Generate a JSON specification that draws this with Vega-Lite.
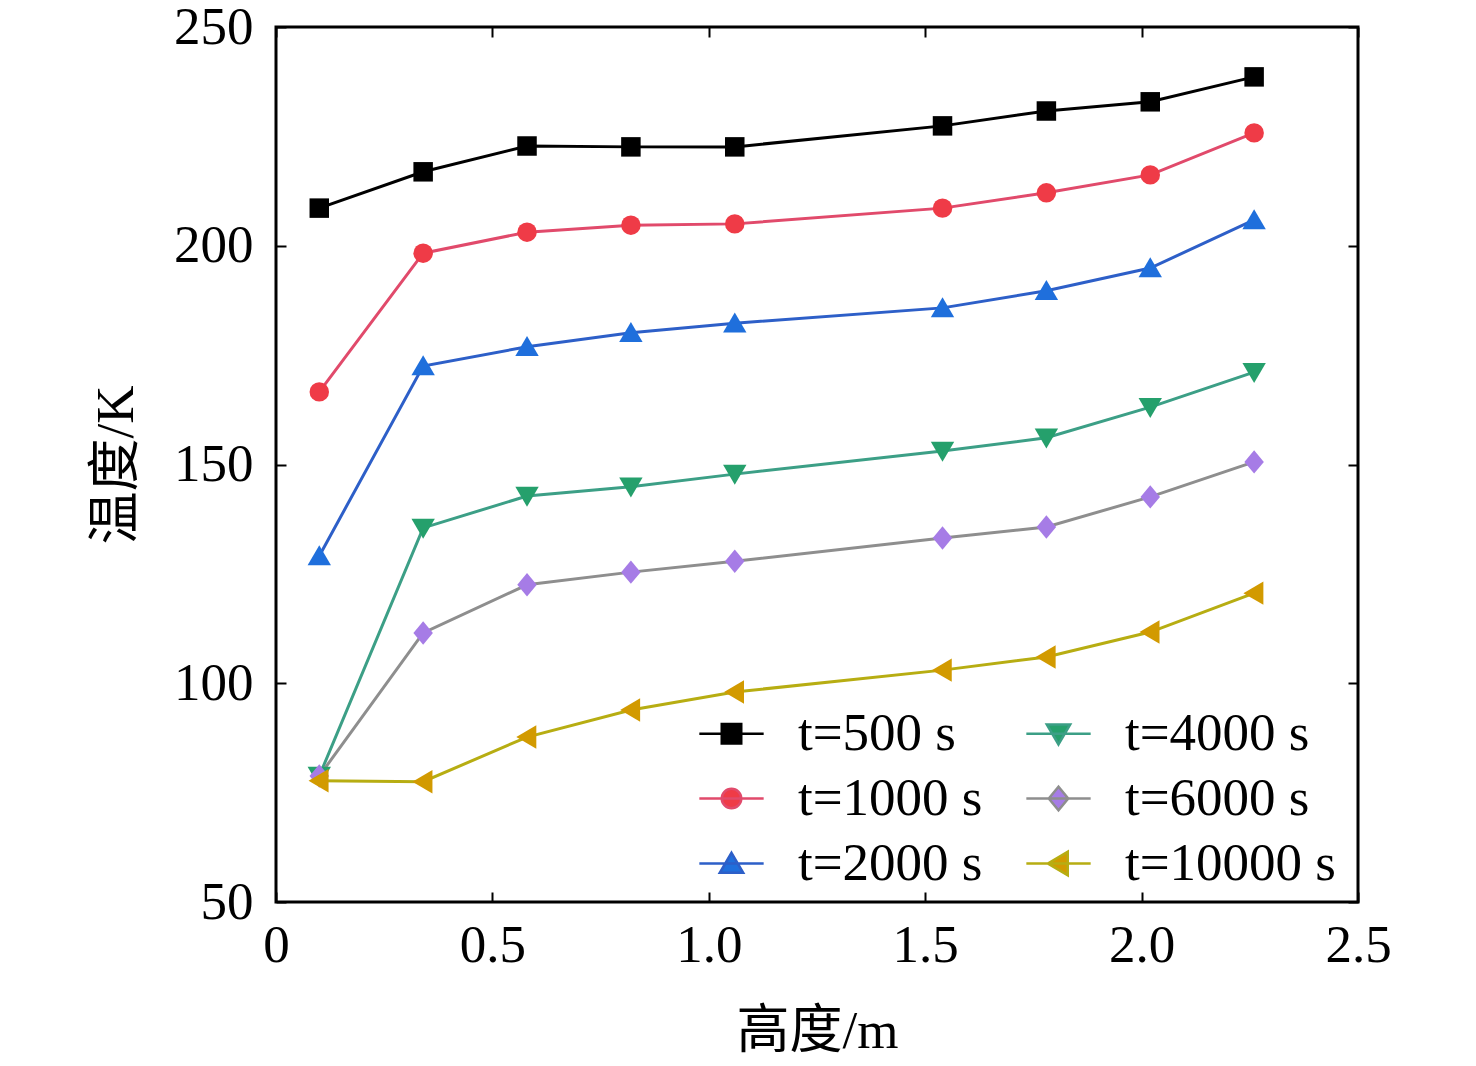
{
  "$schema": "https://vega.github.io/schema/vega-lite/v6.json",
  "width": 1082,
  "height": 875,
  "autosize": {"type": "none"},
  "padding": {"left": 276, "top": 27, "right": 118, "bottom": 164},
  "background": "white",
  "config": {
    "view": {"stroke": "black", "strokeWidth": 3},
    "axis": {
      "labelFont": "Liberation Serif",
      "labelFontSize": 53,
      "labelColor": "black",
      "labelFlush": false,
      "titleFont": "Liberation Serif, Noto Sans CJK SC",
      "titleFontSize": 53,
      "titleFontWeight": "normal",
      "titleColor": "black",
      "tickColor": "black",
      "tickWidth": 2,
      "tickSize": -10,
      "domain": false,
      "grid": false
    },
    "legend": {
      "labelFont": "Liberation Serif",
      "labelFontSize": 53,
      "labelColor": "black",
      "labelLimit": 400
    }
  },
  "data": {
    "values": [
      {"h": 0.1, "T": 208.6, "series": "t=500 s"},
      {"h": 0.34, "T": 216.9, "series": "t=500 s"},
      {"h": 0.58, "T": 222.8, "series": "t=500 s"},
      {"h": 0.82, "T": 222.6, "series": "t=500 s"},
      {"h": 1.06, "T": 222.6, "series": "t=500 s"},
      {"h": 1.54, "T": 227.4, "series": "t=500 s"},
      {"h": 1.78, "T": 230.8, "series": "t=500 s"},
      {"h": 2.02, "T": 232.9, "series": "t=500 s"},
      {"h": 2.26, "T": 238.6, "series": "t=500 s"},
      {"h": 0.1, "T": 166.6, "series": "t=1000 s"},
      {"h": 0.34, "T": 198.3, "series": "t=1000 s"},
      {"h": 0.58, "T": 203.1, "series": "t=1000 s"},
      {"h": 0.82, "T": 204.7, "series": "t=1000 s"},
      {"h": 1.06, "T": 205.0, "series": "t=1000 s"},
      {"h": 1.54, "T": 208.6, "series": "t=1000 s"},
      {"h": 1.78, "T": 212.1, "series": "t=1000 s"},
      {"h": 2.02, "T": 216.2, "series": "t=1000 s"},
      {"h": 2.26, "T": 225.8, "series": "t=1000 s"},
      {"h": 0.1, "T": 129.1, "series": "t=2000 s"},
      {"h": 0.34, "T": 172.5, "series": "t=2000 s"},
      {"h": 0.58, "T": 176.9, "series": "t=2000 s"},
      {"h": 0.82, "T": 180.1, "series": "t=2000 s"},
      {"h": 1.06, "T": 182.3, "series": "t=2000 s"},
      {"h": 1.54, "T": 185.8, "series": "t=2000 s"},
      {"h": 1.78, "T": 189.7, "series": "t=2000 s"},
      {"h": 2.02, "T": 194.9, "series": "t=2000 s"},
      {"h": 2.26, "T": 205.9, "series": "t=2000 s"},
      {"h": 0.1, "T": 78.8, "series": "t=4000 s"},
      {"h": 0.34, "T": 135.5, "series": "t=4000 s"},
      {"h": 0.58, "T": 142.8, "series": "t=4000 s"},
      {"h": 0.82, "T": 144.9, "series": "t=4000 s"},
      {"h": 1.06, "T": 147.8, "series": "t=4000 s"},
      {"h": 1.54, "T": 153.1, "series": "t=4000 s"},
      {"h": 1.78, "T": 156.1, "series": "t=4000 s"},
      {"h": 2.02, "T": 163.1, "series": "t=4000 s"},
      {"h": 2.26, "T": 171.1, "series": "t=4000 s"},
      {"h": 0.1, "T": 78.8, "series": "t=6000 s"},
      {"h": 0.34, "T": 111.5, "series": "t=6000 s"},
      {"h": 0.58, "T": 122.5, "series": "t=6000 s"},
      {"h": 0.82, "T": 125.4, "series": "t=6000 s"},
      {"h": 1.06, "T": 127.9, "series": "t=6000 s"},
      {"h": 1.54, "T": 133.2, "series": "t=6000 s"},
      {"h": 1.78, "T": 135.7, "series": "t=6000 s"},
      {"h": 2.02, "T": 142.6, "series": "t=6000 s"},
      {"h": 2.26, "T": 150.6, "series": "t=6000 s"},
      {"h": 0.1, "T": 77.7, "series": "t=10000 s"},
      {"h": 0.34, "T": 77.5, "series": "t=10000 s"},
      {"h": 0.58, "T": 87.7, "series": "t=10000 s"},
      {"h": 0.82, "T": 93.9, "series": "t=10000 s"},
      {"h": 1.06, "T": 98.0, "series": "t=10000 s"},
      {"h": 1.54, "T": 103.0, "series": "t=10000 s"},
      {"h": 1.78, "T": 106.0, "series": "t=10000 s"},
      {"h": 2.02, "T": 111.7, "series": "t=10000 s"},
      {"h": 2.26, "T": 120.6, "series": "t=10000 s"}
    ]
  },
  "layer": [
    {
      "mark": {"type": "line", "strokeWidth": 3},
      "encoding": {
        "x": {
          "field": "h",
          "type": "quantitative",
          "scale": {"domain": [0, 2.5], "nice": false},
          "axis": {
            "orient": "bottom",
            "values": [0, 0.5, 1, 1.5, 2, 2.5],
            "labelExpr": "datum.value == 0 ? '0' : format(datum.value, '.1f')",
            "labelPadding": 27,
            "title": "高度/m",
            "titlePadding": 33
          }
        },
        "y": {
          "field": "T",
          "type": "quantitative",
          "scale": {"domain": [50, 250], "nice": false, "zero": false},
          "axis": {
            "orient": "left",
            "values": [50, 100, 150, 200, 250],
            "labelPadding": 33,
            "title": "温度/K",
            "titlePadding": 30
          }
        },
        "stroke": {
          "field": "series",
          "type": "nominal",
          "scale": {
            "domain": ["t=500 s", "t=1000 s", "t=2000 s", "t=4000 s", "t=6000 s", "t=10000 s"],
            "range": ["#000000", "#e14a6b", "#2d5fc8", "#3c9f86", "#8e8e8e", "#b7ad12"]
          },
          "legend": {
            "title": null,
            "orient": "none",
            "legendX": 429,
            "legendY": 680,
            "columns": 2,
            "symbolSize": 380,
            "labelOffset": 40,
            "rowPadding": 11,
            "columnPadding": 38,
            "padding": 0,
            "encode": {
              "symbols": {
                "update": {
                  "shape": {"signal": "datum.value == 't=500 s' ? 'M-3.3,0H3.3M-1,-1H1V1H-1Z' : datum.value == 't=1000 s' ? 'M-3.3,0H3.3M1,0A1,1,0,1,1,-1,0A1,1,0,1,1,1,0Z' : datum.value == 't=2000 s' ? 'M-3.3,0H3.3M0,-1.1L1.2,0.95H-1.2Z' : datum.value == 't=4000 s' ? 'M-3.3,0H3.3M0,1.1L1.2,-0.95H-1.2Z' : datum.value == 't=6000 s' ? 'M-3.3,0H3.3M-1,0L0,-1.2L1,0L0,1.2Z' : 'M-3.3,0H3.3M-1.1,0L0.95,-1.2V1.2Z'"},
                  "fill": {"signal": "scale('fill', datum.value)"},
                  "strokeWidth": {"value": 2.5},
                  "opacity": {"value": 1}
                }
              }
            }
          }
        }
      }
    },
    {
      "mark": {"type": "point", "filled": true, "size": 380, "opacity": 1, "strokeWidth": 0},
      "encoding": {
        "x": {
          "field": "h",
          "type": "quantitative",
          "axis": {"orient": "top", "values": [0, 0.5, 1, 1.5, 2, 2.5], "labels": false, "title": null}
        },
        "y": {
          "field": "T",
          "type": "quantitative",
          "axis": {"orient": "right", "values": [50, 100, 150, 200, 250], "labels": false, "title": null}
        },
        "fill": {
          "field": "series",
          "type": "nominal",
          "scale": {
            "domain": ["t=10000 s", "t=6000 s", "t=4000 s", "t=2000 s", "t=1000 s", "t=500 s"],
            "range": ["#d29a00", "#a67ce6", "#25a06c", "#1f6fdc", "#ef3b47", "#000000"]
          },
          "legend": null
        },
        "shape": {
          "field": "series",
          "type": "nominal",
          "scale": {
            "domain": ["t=10000 s", "t=6000 s", "t=4000 s", "t=2000 s", "t=1000 s", "t=500 s"],
            "range": ["M-1.1,0L0.95,-1.2V1.2Z", "M-1,0L0,-1.2L1,0L0,1.2Z", "M0,1.1L1.2,-0.95H-1.2Z", "M0,-1.1L1.2,0.95H-1.2Z", "circle", "square"]
          },
          "legend": null
        }
      }
    }
  ],
  "resolve": {"axis": {"x": "independent", "y": "independent"}}
}
